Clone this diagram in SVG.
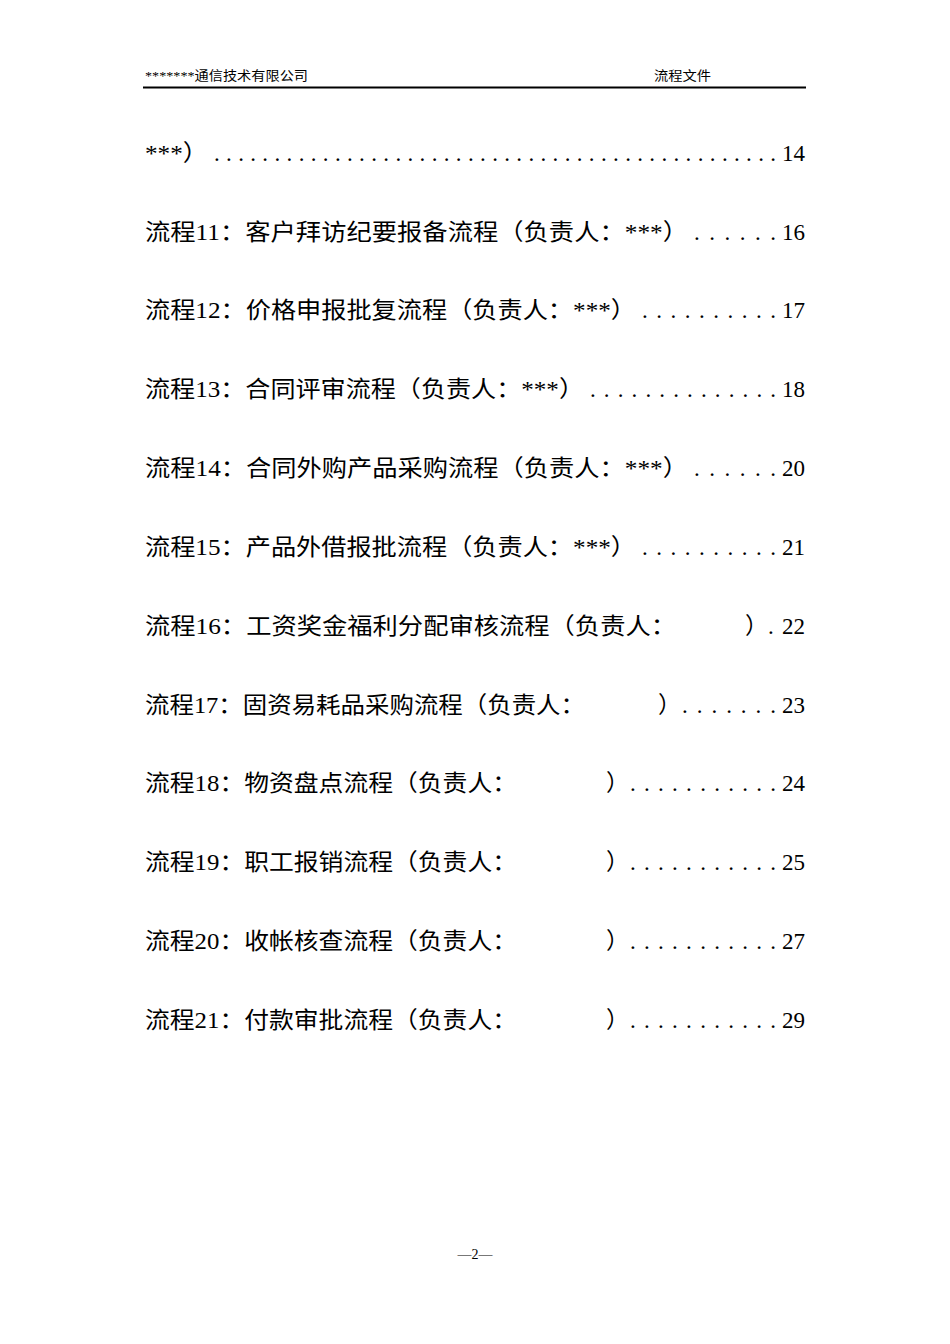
<svg xmlns="http://www.w3.org/2000/svg" width="950" height="1344" viewBox="0 0 950 1344">
<style>
.h{font-family:"Liberation Serif","Noto Sans CJK SC",serif;font-size:13px;fill:#000}
.t{font-family:"Liberation Serif","Noto Sans CJK SC",serif;font-size:23px;fill:#000}
.n{text-anchor:end}
</style>
<rect width="950" height="1344" fill="#fff"/>
<text class="h" x="145" y="80" textLength="163" lengthAdjust="spacingAndGlyphs">*******通信技术有限公司</text>
<text class="h" x="654" y="80" textLength="57" lengthAdjust="spacingAndGlyphs">流程文件</text>
<line x1="143" y1="87.5" x2="806" y2="87.5" stroke="#000" stroke-width="2"/>
<g id="toc">
<text class="t" x="145" y="161" textLength="63" lengthAdjust="spacingAndGlyphs">***）</text>
<text class="t" x="214" y="161" textLength="562" lengthAdjust="spacing">...............................................</text>
<text class="t n" x="805" y="161">14</text>

<text class="t" x="145" y="240" textLength="543" lengthAdjust="spacingAndGlyphs">流程11：客户拜访纪要报备流程（负责人：***）</text>
<text class="t" x="694" y="240" textLength="82" lengthAdjust="spacing">......</text>
<text class="t n" x="805" y="240">16</text>

<text class="t" x="145" y="318" textLength="491" lengthAdjust="spacingAndGlyphs">流程12：价格申报批复流程（负责人：***）</text>
<text class="t" x="642" y="318" textLength="134" lengthAdjust="spacing">..........</text>
<text class="t n" x="805" y="318">17</text>

<text class="t" x="145" y="397" textLength="439" lengthAdjust="spacingAndGlyphs">流程13：合同评审流程（负责人：***）</text>
<text class="t" x="590" y="397" textLength="186" lengthAdjust="spacing">..............</text>
<text class="t n" x="805" y="397">18</text>

<text class="t" x="145" y="476" textLength="543" lengthAdjust="spacingAndGlyphs">流程14：合同外购产品采购流程（负责人：***）</text>
<text class="t" x="694" y="476" textLength="82" lengthAdjust="spacing">......</text>
<text class="t n" x="805" y="476">20</text>

<text class="t" x="145" y="555" textLength="491" lengthAdjust="spacingAndGlyphs">流程15：产品外借报批流程（负责人：***）</text>
<text class="t" x="642" y="555" textLength="134" lengthAdjust="spacing">..........</text>
<text class="t n" x="805" y="555">21</text>

<text class="t" x="145" y="634" textLength="531" lengthAdjust="spacingAndGlyphs">流程16：工资奖金福利分配审核流程（负责人：</text>
<text class="t" x="745" y="634">）.</text>
<text class="t n" x="805" y="634">22</text>

<text class="t" x="145" y="713" textLength="440" lengthAdjust="spacingAndGlyphs">流程17：固资易耗品采购流程（负责人：</text>
<text class="t" x="658" y="713">）</text>
<text class="t" x="682" y="713" textLength="94" lengthAdjust="spacing">.......</text>
<text class="t n" x="805" y="713">23</text>

<text class="t" x="145" y="791" textLength="372" lengthAdjust="spacingAndGlyphs">流程18：物资盘点流程（负责人：</text>
<text class="t" x="606" y="791">）</text>
<text class="t" x="630" y="791" textLength="146" lengthAdjust="spacing">...........</text>
<text class="t n" x="805" y="791">24</text>

<text class="t" x="145" y="870" textLength="372" lengthAdjust="spacingAndGlyphs">流程19：职工报销流程（负责人：</text>
<text class="t" x="606" y="870">）</text>
<text class="t" x="630" y="870" textLength="146" lengthAdjust="spacing">...........</text>
<text class="t n" x="805" y="870">25</text>

<text class="t" x="145" y="949" textLength="372" lengthAdjust="spacingAndGlyphs">流程20：收帐核查流程（负责人：</text>
<text class="t" x="606" y="949">）</text>
<text class="t" x="630" y="949" textLength="146" lengthAdjust="spacing">...........</text>
<text class="t n" x="805" y="949">27</text>

<text class="t" x="145" y="1028" textLength="372" lengthAdjust="spacingAndGlyphs">流程21：付款审批流程（负责人：</text>
<text class="t" x="606" y="1028">）</text>
<text class="t" x="630" y="1028" textLength="146" lengthAdjust="spacing">...........</text>
<text class="t n" x="805" y="1028">29</text>
</g>
<text x="475" y="1259" text-anchor="middle" font-family="Liberation Serif,Noto Sans CJK SC,serif" font-size="14">—2—</text>
</svg>
